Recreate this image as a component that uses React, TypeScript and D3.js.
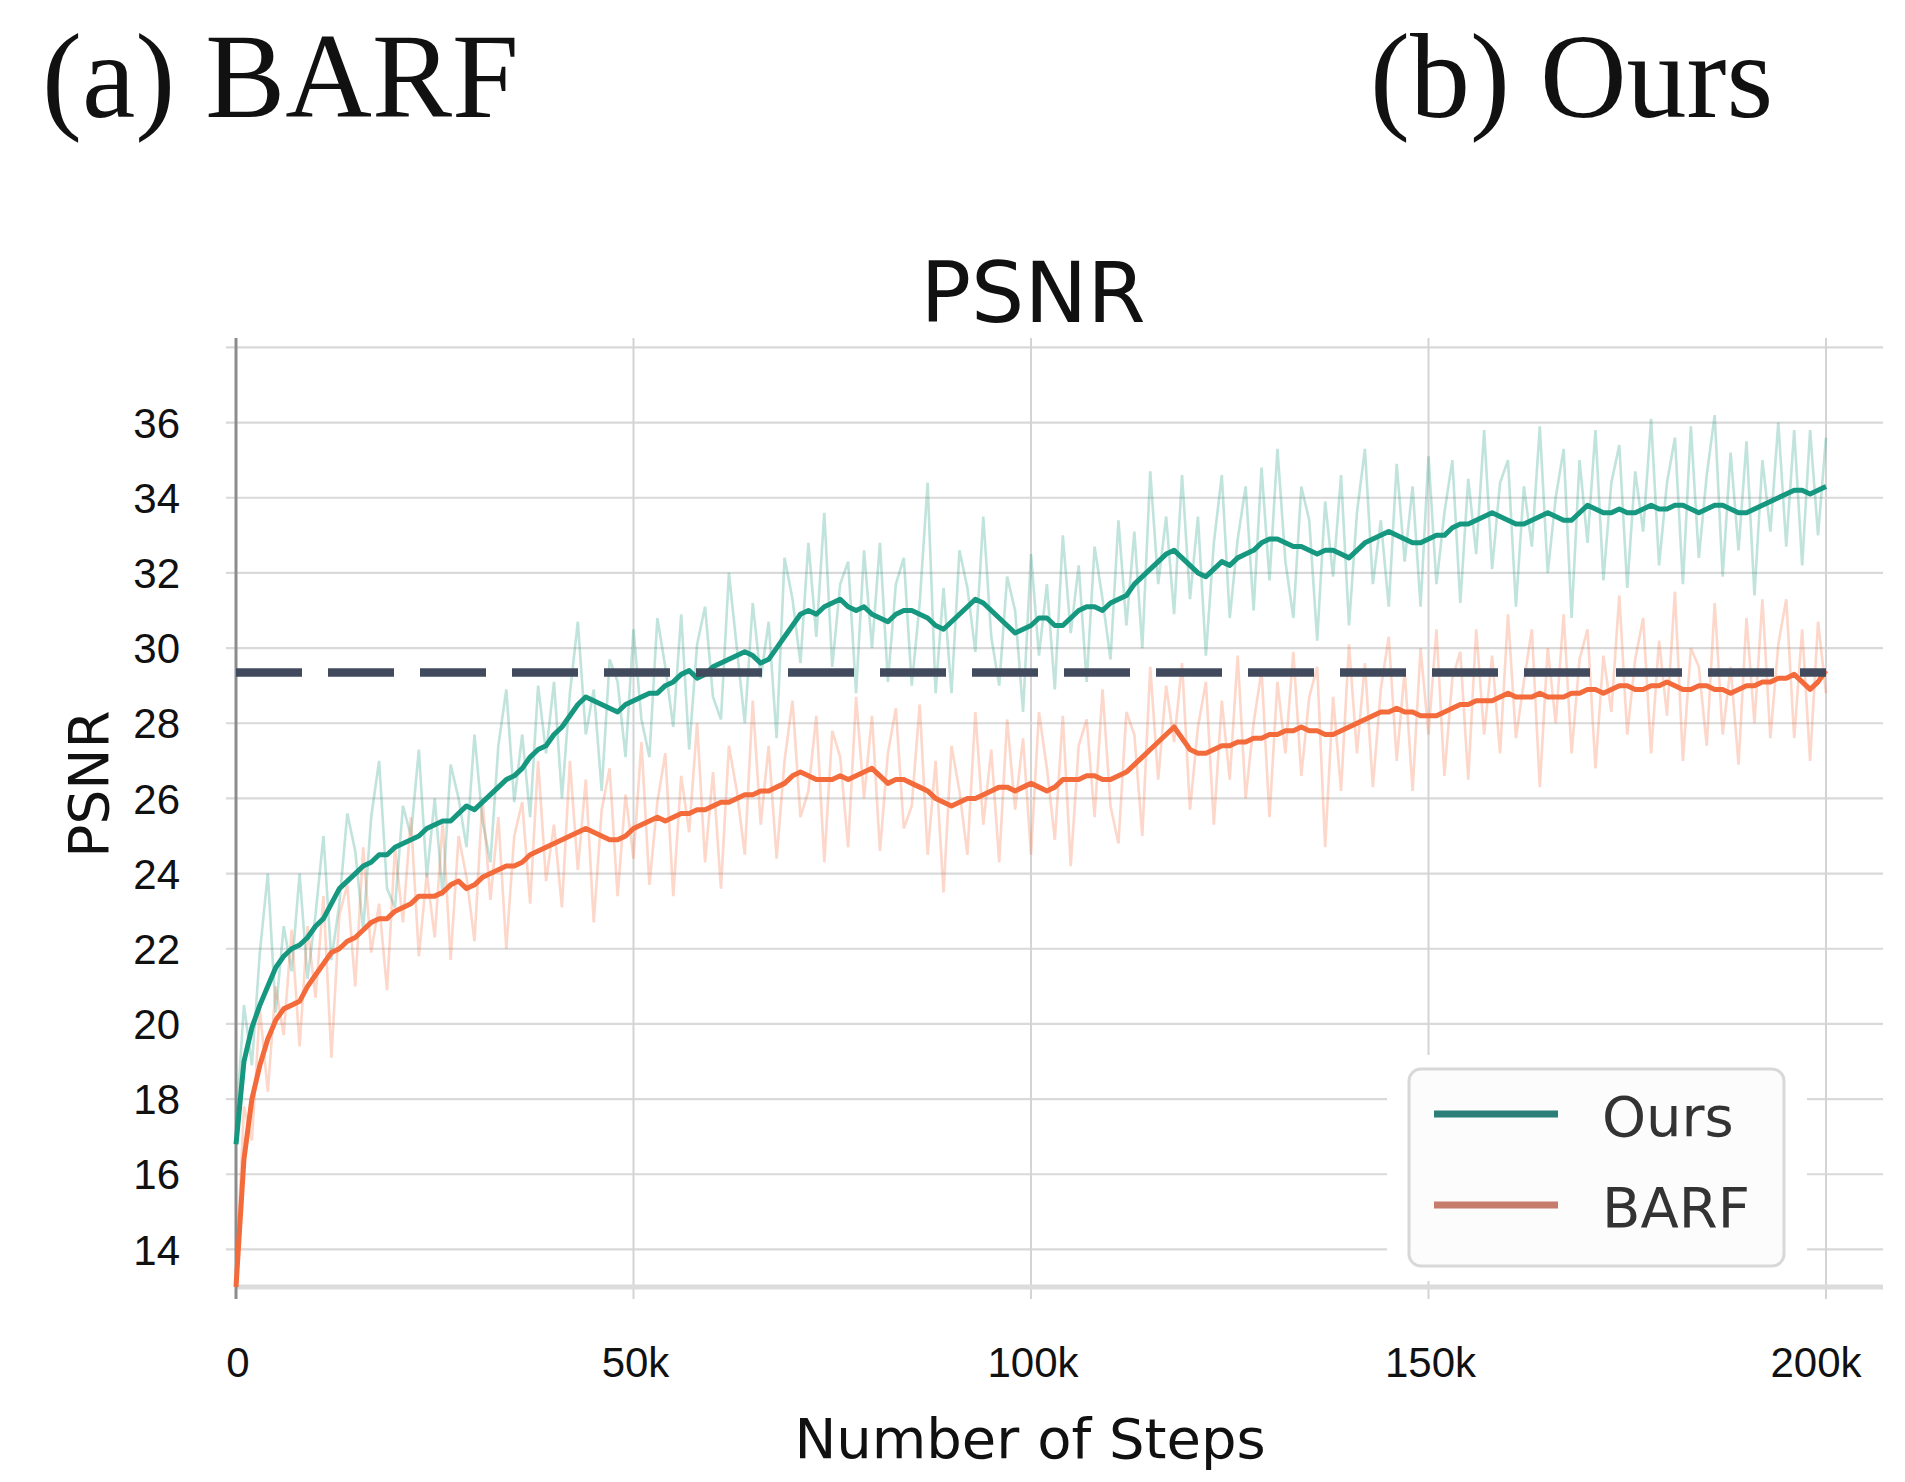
import React, { useEffect, useRef } from 'react';
import * as d3 from 'd3';

// one reading every 1k steps, 0 .. 200k
const steps = d3.range(0, 200001, 1000);

// smoothed PSNR curves
const oursSmooth = [
  16.8, 19.0, 19.9, 20.5, 21.0, 21.5, 21.8, 22.0, 22.1, 22.3,
  22.6, 22.8, 23.2, 23.6, 23.8, 24.0, 24.2, 24.3, 24.5, 24.5,
  24.7, 24.8, 24.9, 25.0, 25.2, 25.3, 25.4, 25.4, 25.6, 25.8,
  25.7, 25.9, 26.1, 26.3, 26.5, 26.6, 26.8, 27.1, 27.3, 27.4,
  27.7, 27.9, 28.2, 28.5, 28.7, 28.6, 28.5, 28.4, 28.3, 28.5,
  28.6, 28.7, 28.8, 28.8, 29.0, 29.1, 29.3, 29.4, 29.2, 29.3,
  29.5, 29.6, 29.7, 29.8, 29.9, 29.8, 29.6, 29.7, 30.0, 30.3,
  30.6, 30.9, 31.0, 30.9, 31.1, 31.2, 31.3, 31.1, 31.0, 31.1,
  30.9, 30.8, 30.7, 30.9, 31.0, 31.0, 30.9, 30.8, 30.6, 30.5,
  30.7, 30.9, 31.1, 31.3, 31.2, 31.0, 30.8, 30.6, 30.4, 30.5,
  30.6, 30.8, 30.8, 30.6, 30.6, 30.8, 31.0, 31.1, 31.1, 31.0,
  31.2, 31.3, 31.4, 31.7, 31.9, 32.1, 32.3, 32.5, 32.6, 32.4,
  32.2, 32.0, 31.9, 32.1, 32.3, 32.2, 32.4, 32.5, 32.6, 32.8,
  32.9, 32.9, 32.8, 32.7, 32.7, 32.6, 32.5, 32.6, 32.6, 32.5,
  32.4, 32.6, 32.8, 32.9, 33.0, 33.1, 33.0, 32.9, 32.8, 32.8,
  32.9, 33.0, 33.0, 33.2, 33.3, 33.3, 33.4, 33.5, 33.6, 33.5,
  33.4, 33.3, 33.3, 33.4, 33.5, 33.6, 33.5, 33.4, 33.4, 33.6,
  33.8, 33.7, 33.6, 33.6, 33.7, 33.6, 33.6, 33.7, 33.8, 33.7,
  33.7, 33.8, 33.8, 33.7, 33.6, 33.7, 33.8, 33.8, 33.7, 33.6,
  33.6, 33.7, 33.8, 33.9, 34.0, 34.1, 34.2, 34.2, 34.1, 34.2,
  34.3,
];

const barfSmooth = [
  13.0, 16.4, 18.0, 18.9, 19.6, 20.1, 20.4, 20.5, 20.6, 21.0,
  21.3, 21.6, 21.9, 22.0, 22.2, 22.3, 22.5, 22.7, 22.8, 22.8,
  23.0, 23.1, 23.2, 23.4, 23.4, 23.4, 23.5, 23.7, 23.8, 23.6,
  23.7, 23.9, 24.0, 24.1, 24.2, 24.2, 24.3, 24.5, 24.6, 24.7,
  24.8, 24.9, 25.0, 25.1, 25.2, 25.1, 25.0, 24.9, 24.9, 25.0,
  25.2, 25.3, 25.4, 25.5, 25.4, 25.5, 25.6, 25.6, 25.7, 25.7,
  25.8, 25.9, 25.9, 26.0, 26.1, 26.1, 26.2, 26.2, 26.3, 26.4,
  26.6, 26.7, 26.6, 26.5, 26.5, 26.5, 26.6, 26.5, 26.6, 26.7,
  26.8, 26.6, 26.4, 26.5, 26.5, 26.4, 26.3, 26.2, 26.0, 25.9,
  25.8, 25.9, 26.0, 26.0, 26.1, 26.2, 26.3, 26.3, 26.2, 26.3,
  26.4, 26.3, 26.2, 26.3, 26.5, 26.5, 26.5, 26.6, 26.6, 26.5,
  26.5, 26.6, 26.7, 26.9, 27.1, 27.3, 27.5, 27.7, 27.9, 27.6,
  27.3, 27.2, 27.2, 27.3, 27.4, 27.4, 27.5, 27.5, 27.6, 27.6,
  27.7, 27.7, 27.8, 27.8, 27.9, 27.8, 27.8, 27.7, 27.7, 27.8,
  27.9, 28.0, 28.1, 28.2, 28.3, 28.3, 28.4, 28.3, 28.3, 28.2,
  28.2, 28.2, 28.3, 28.4, 28.5, 28.5, 28.6, 28.6, 28.6, 28.7,
  28.8, 28.7, 28.7, 28.7, 28.8, 28.7, 28.7, 28.7, 28.8, 28.8,
  28.9, 28.9, 28.8, 28.9, 29.0, 29.0, 28.9, 28.9, 29.0, 29.0,
  29.1, 29.0, 28.9, 28.9, 29.0, 29.0, 28.9, 28.9, 28.8, 28.9,
  29.0, 29.0, 29.1, 29.1, 29.2, 29.2, 29.3, 29.1, 28.9, 29.1,
  29.4,
];

// raw (unsmoothed) readings
const oursRaw = [
  17.2, 20.5, 18.9, 21.9, 24.0, 20.3, 22.6, 21.4, 24.0, 21.2,
  22.9, 25.0, 21.7, 23.2, 25.6, 24.6, 22.5, 25.5, 27.0, 23.6,
  23.1, 25.8, 25.0, 27.3, 23.9, 26.0, 23.4, 26.9, 26.0, 24.7,
  27.7, 25.4, 24.3, 27.4, 28.9, 25.9, 27.7, 25.5, 29.0, 27.2,
  29.1, 26.0, 28.8, 30.7, 27.7, 28.9, 26.2, 29.7, 29.1, 27.1,
  30.5, 28.1, 27.1, 30.8, 29.5, 27.9, 30.9, 27.3, 30.1, 31.1,
  28.7, 28.1, 32.0, 30.0, 28.0, 31.2, 29.2, 30.7, 27.6, 32.4,
  31.3, 29.6, 32.8, 30.3, 33.6, 29.5, 31.7, 32.3, 28.8, 32.6,
  30.0, 32.8, 29.1, 31.7, 32.4, 29.0, 31.2, 34.4, 28.8, 31.6,
  28.8, 32.6, 31.6, 29.9, 33.5, 30.3, 29.0, 31.9, 31.0, 28.3,
  32.5, 29.8, 31.7, 28.9, 33.0, 30.4, 32.2, 29.1, 32.7, 31.3,
  29.7, 33.4, 30.6, 33.1, 30.0, 34.7, 31.7, 33.5, 30.9, 34.6,
  31.3, 33.5, 29.8, 32.8, 34.6, 30.8, 32.9, 34.3, 31.0, 34.8,
  31.8, 35.3, 32.3, 30.8, 34.3, 33.4, 30.2, 33.9, 31.9, 34.6,
  30.6, 33.6, 35.3, 31.7, 33.4, 31.1, 34.9, 32.3, 34.3, 31.1,
  35.1, 31.7, 33.6, 35.0, 31.2, 34.5, 32.5, 35.8, 32.1, 34.4,
  35.0, 31.1, 34.3, 32.7, 35.9, 32.0, 34.0, 35.3, 30.8, 35.0,
  32.8, 35.8, 31.8, 34.4, 35.4, 31.6, 34.7, 33.1, 36.1, 32.2,
  34.4, 35.6, 31.7, 35.9, 32.4, 34.6, 36.2, 31.9, 35.2, 32.6,
  35.5, 31.4, 35.0, 33.1, 36.0, 32.7, 35.8, 32.2, 35.8, 33.0,
  35.6,
];

const barfRaw = [
  13.2, 17.8, 16.9, 20.4, 18.2, 21.0, 19.7, 22.5, 19.4, 22.6,
  20.7, 23.4, 19.1, 22.9, 23.7, 21.0, 24.7, 21.9, 23.2, 20.9,
  24.7, 22.7, 25.5, 21.8, 24.0, 22.3, 25.4, 21.7, 25.0, 23.9,
  22.2, 26.0, 23.3, 25.5, 22.0, 25.0, 25.9, 23.2, 27.0, 23.8,
  25.3, 23.1, 27.0, 24.1, 26.5, 22.7, 25.7, 26.8, 23.4, 26.1,
  24.4, 27.5, 23.7, 25.9, 27.2, 23.4, 26.6, 25.1, 28.0, 24.3,
  26.7, 23.6, 27.4, 26.2, 24.5, 28.6, 25.3, 27.4, 24.4, 27.0,
  28.6, 25.5, 26.2, 28.2, 24.3, 27.8, 27.1, 24.7, 28.7, 26.0,
  28.2, 24.6, 27.2, 28.4, 25.2, 25.8, 28.5, 24.5, 27.0, 23.5,
  27.4, 26.2, 24.5, 28.3, 25.3, 27.3, 24.3, 28.1, 25.7, 27.6,
  24.5, 28.3, 26.8, 24.9, 28.2, 24.2, 27.4, 28.1, 25.5, 28.9,
  25.8, 24.8, 28.3, 27.7, 25.0, 29.5, 26.5, 29.0, 27.5, 29.6,
  25.7, 27.9, 29.1, 25.3, 28.6, 26.5, 29.8, 26.0, 28.0, 29.4,
  25.5, 29.1, 27.2, 29.9, 26.6, 28.7, 29.5, 24.7, 28.7, 26.2,
  30.1, 27.2, 29.6, 26.3, 28.9, 30.3, 27.0, 29.4, 26.2, 30.0,
  27.7, 30.5, 26.6, 29.2, 29.9, 26.5, 30.5, 27.7, 29.8, 27.2,
  30.9, 27.6, 29.1, 30.5, 26.3, 30.0, 28.0, 30.9, 27.2, 29.7,
  30.5, 26.8, 29.8, 28.3, 31.4, 27.7, 29.7, 30.8, 27.2, 30.2,
  28.2, 31.5, 27.0, 30.0, 29.5, 27.4, 31.2, 27.7, 29.5, 26.9,
  30.8, 28.0, 31.3, 27.6, 30.1, 31.3, 27.6, 30.5, 27.0, 30.7,
  28.8,
];

const yTicks = [14, 16, 18, 20, 22, 24, 26, 28, 30, 32, 34, 36];
const yGrid = [...yTicks, 38];
const xTicks = [0, 50000, 100000, 150000, 200000];
const xTickLabels = ['0', '50k', '100k', '150k', '200k'];
const baselinePsnr = 29.35; // dashed reference line
const seriesNames = ['Ours', 'BARF'];
const seriesColors = ['#16977f', '#f36a3b'];
const legendColors = ['#2b7f78', '#c77d6c'];

const App = () => {
  const ref = useRef<SVGSVGElement>(null);

  useEffect(() => {
    const svg = d3.select(ref.current);
    svg.selectAll('*').remove();

    const left = 236, right = 1883, top = 338, bottom = 1287;
    const x = d3.scaleLinear().domain([0, 200000]).range([left, 1826]);
    const y = d3.scaleLinear().domain([13, 38.25]).range([bottom, top]);

    svg.append('rect').attr('width', 1905).attr('height', 1482).attr('fill', '#fff');

    // panel captions
    svg.append('text').attr('x', 42).attr('y', 117)
      .style('font-family', '"Liberation Serif", "Times New Roman", serif')
      .style('font-size', '120px').attr('fill', '#111').text('(a) BARF');
    svg.append('text').attr('x', 1370).attr('y', 117)
      .style('font-family', '"Liberation Serif", "Times New Roman", serif')
      .style('font-size', '120px').attr('fill', '#111').text('(b) Ours');

    svg.append('text').attr('x', 1033).attr('y', 322).attr('text-anchor', 'middle')
      .style('font-family', '"DejaVu Sans", sans-serif').style('font-size', '84px')
      .attr('fill', '#111').text('PSNR');

    // grid
    const grid = svg.append('g');
    grid.selectAll('.hg').data(yGrid).enter().append('line')
      .attr('x1', left - 10).attr('x2', right)
      .attr('y1', d => y(d)).attr('y2', d => y(d))
      .attr('stroke', '#d9d9d9').attr('stroke-width', 2.2);
    grid.selectAll('.vg').data(xTicks).enter().append('line')
      .attr('x1', d => x(d)).attr('x2', d => x(d))
      .attr('y1', top).attr('y2', bottom + 12)
      .attr('stroke', '#d4d4d4').attr('stroke-width', 2);

    // spines
    svg.append('line').attr('x1', left).attr('x2', right).attr('y1', bottom).attr('y2', bottom)
      .attr('stroke', '#dcdcdc').attr('stroke-width', 5);
    svg.append('line').attr('x1', left).attr('x2', left).attr('y1', top).attr('y2', bottom + 12)
      .attr('stroke', '#8c8c8c').attr('stroke-width', 3);

    // tick labels
    svg.append('g').selectAll('text').data(yTicks).enter().append('text')
      .attr('x', 180).attr('y', d => y(d)).attr('dy', '0.36em').attr('text-anchor', 'end')
      .style('font-family', '"Liberation Sans", Arial, sans-serif').style('font-size', '42px')
      .attr('fill', '#111').text(d => d);
    svg.append('g').selectAll('text').data(xTicks).enter().append('text')
      .attr('x', (d, i) => x(d) + (i === 4 ? -10 : 2)).attr('y', 1377).attr('text-anchor', 'middle')
      .style('font-family', '"Liberation Sans", Arial, sans-serif').style('font-size', '42px')
      .attr('fill', '#111').text((d, i) => xTickLabels[i]);

    // axis titles
    svg.append('text').attr('x', 1030).attr('y', 1458).attr('text-anchor', 'middle')
      .style('font-family', '"DejaVu Sans", sans-serif').style('font-size', '56px')
      .attr('fill', '#111').text('Number of Steps');
    svg.append('text').attr('transform', 'translate(108,784) rotate(-90)').attr('text-anchor', 'middle')
      .style('font-family', '"DejaVu Sans", sans-serif').style('font-size', '55px')
      .attr('fill', '#111').text('PSNR');

    // curves
    const line = d3.line<number>().x((d, i) => x(steps[i])).y(d => y(d));
    const plot = svg.append('g');
    [oursRaw, barfRaw].forEach((vals, k) => {
      plot.append('path').attr('d', line(vals)).attr('fill', 'none')
        .attr('stroke', seriesColors[k]).attr('stroke-opacity', 0.27).attr('stroke-width', 2.6);
    });
    [oursSmooth, barfSmooth].forEach((vals, k) => {
      plot.append('path').attr('d', line(vals)).attr('fill', 'none')
        .attr('stroke', seriesColors[k]).attr('stroke-width', 5).attr('stroke-linejoin', 'round');
    });

    // dashed reference level
    svg.append('line').attr('x1', x(0)).attr('x2', x(200000))
      .attr('y1', y(baselinePsnr)).attr('y2', y(baselinePsnr))
      .attr('stroke', '#414b5d').attr('stroke-width', 8.5).attr('stroke-dasharray', '66 26');

    // legend
    const lg = svg.append('g');
    lg.append('rect').attr('x', 1387).attr('y', 1055).attr('width', 420).attr('height', 226).attr('fill', '#fff');
    lg.append('rect').attr('x', 1409).attr('y', 1069).attr('width', 375).attr('height', 197)
      .attr('rx', 12).attr('fill', '#fcfcfc').attr('stroke', '#d8d8d8').attr('stroke-width', 3);
    seriesNames.forEach((name, i) => {
      const ly = 1114 + i * 91;
      lg.append('line').attr('x1', 1434).attr('x2', 1558).attr('y1', ly).attr('y2', ly)
        .attr('stroke', legendColors[i]).attr('stroke-width', 7);
      lg.append('text').attr('x', 1602).attr('y', ly + 22)
        .style('font-family', '"DejaVu Sans", sans-serif').style('font-size', '56px')
        .attr('fill', '#333').text(name);
    });
  }, []);

  return (
    <svg ref={ref} width={1905} height={1482}
      style={{ position: 'absolute', left: 0, top: 0, display: 'block' }} />
  );
};

export default App;
